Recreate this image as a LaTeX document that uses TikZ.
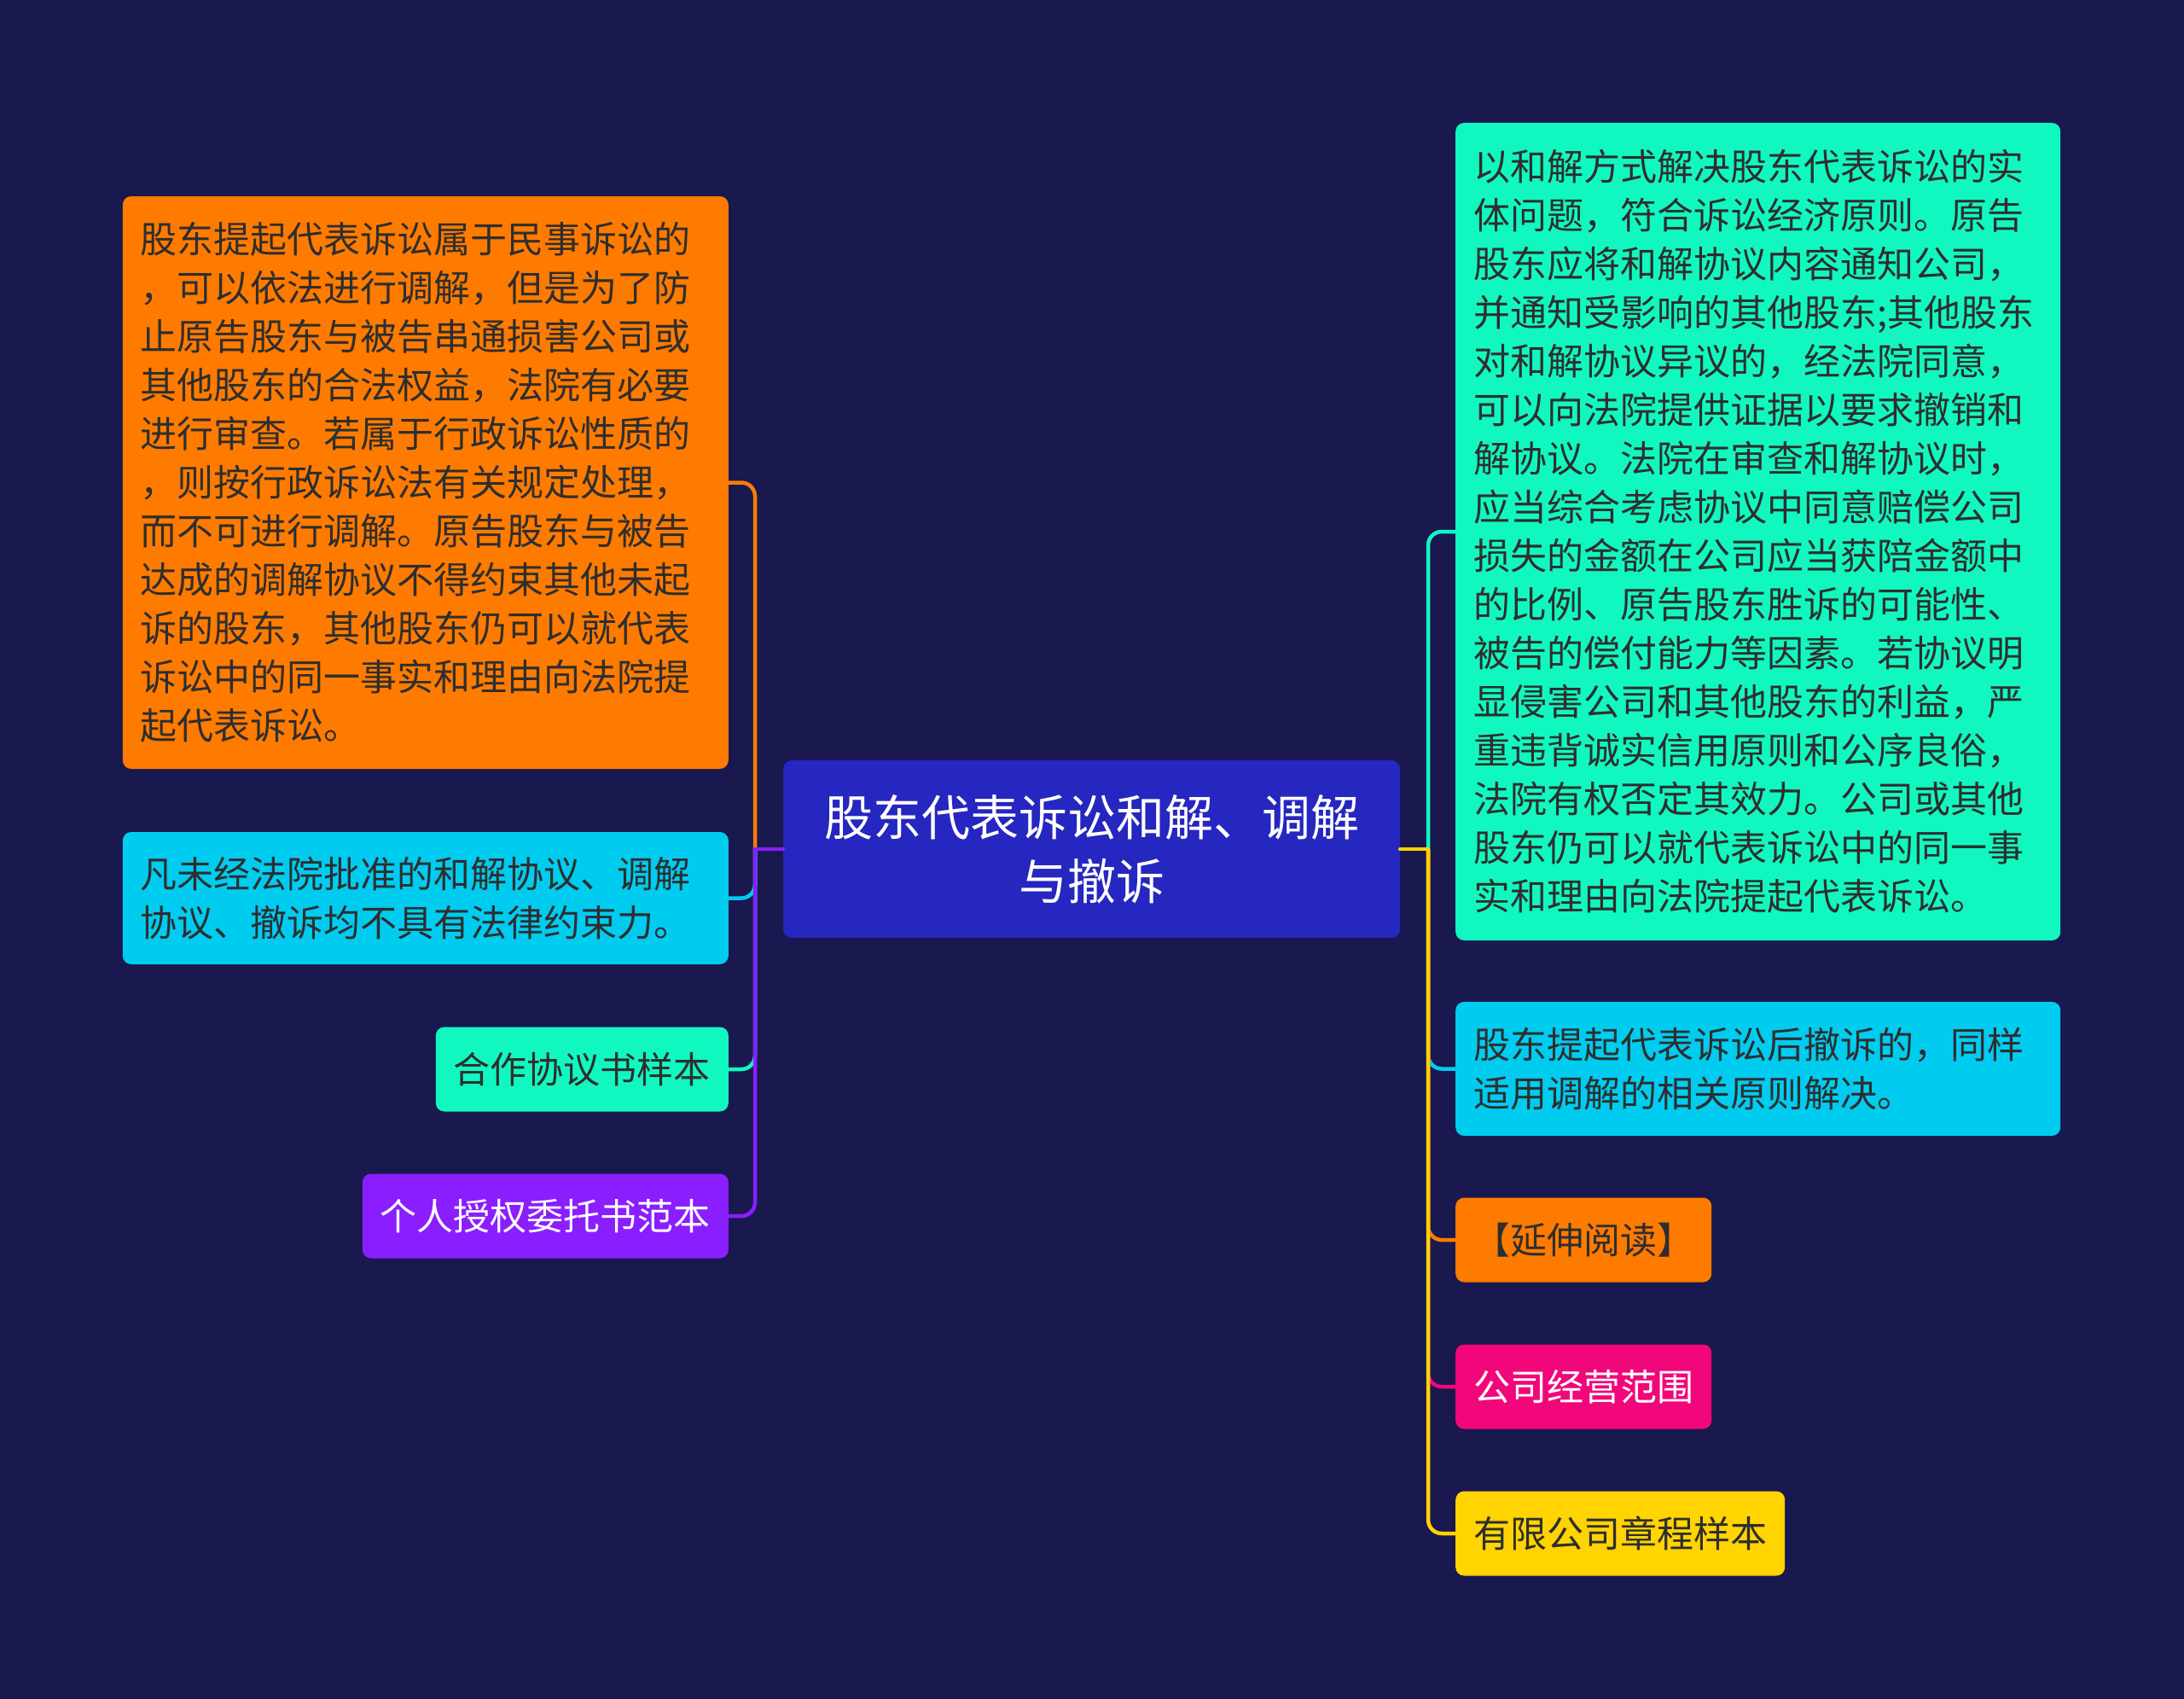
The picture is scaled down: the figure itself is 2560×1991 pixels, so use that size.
\documentclass[tikz,border=0pt]{standalone}
\usepackage{fontspec}
\setmainfont{Noto Sans CJK SC}
\definecolor{bgnavy}{HTML}{19184F}
\definecolor{rootblue}{HTML}{2626C0}
\definecolor{orng}{HTML}{FF7B00}
\definecolor{cyanb}{HTML}{00CCF0}
\definecolor{mint}{HTML}{10F8C0}
\definecolor{purp}{HTML}{8A1EFF}
\definecolor{pinkr}{HTML}{F2077A}
\definecolor{yell}{HTML}{FFD400}
\definecolor{txtdark}{HTML}{2E2E2E}
\begin{document}
\begin{tikzpicture}[x=1pt,y=-1pt,line join=round,line cap=round,
  box/.style={rounded corners=10pt,inner xsep=21pt,inner ysep=0pt,text=txtdark,
    font=\fontsize{43}{57}\selectfont,align=left},
  tag/.style={box,minimum height=99pt,align=center},
  link/.style={line width=4.5pt,rounded corners=16pt}]
\fill[bgnavy] (0,0) rectangle (2560,1991);
\useasboundingbox (0,0) rectangle (2560,1991);

\node[box,fill=rootblue,text=white,minimum width=723pt,minimum height=208pt,
  font=\fontsize{57}{75}\selectfont,align=center] (root) at (1279.5,995) {股东代表诉讼和解、调解\\与撤诉};

\node[box,fill=orng,minimum height=671pt,text width=668pt,anchor=east] (l1) at (854,565.5)
  {股东提起代表诉讼属于民事诉讼的\\，可以依法进行调解，但是为了防\\止原告股东与被告串通损害公司或\\其他股东的合法权益，法院有必要\\进行审查。若属于行政诉讼性质的\\，则按行政诉讼法有关规定处理，\\而不可进行调解。原告股东与被告\\达成的调解协议不得约束其他未起\\诉的股东，其他股东仍可以就代表\\诉讼中的同一事实和理由向法院提\\起代表诉讼。};
\node[box,fill=cyanb,minimum height=155pt,text width=668pt,anchor=east] (l2) at (854,1052.5)
  {凡未经法院批准的和解协议、调解\\协议、撤诉均不具有法律约束力。};
\node[tag,fill=mint,anchor=east] (l3) at (854,1253) {合作协议书样本};
\node[tag,fill=purp,text=white,anchor=east] (l4) at (854,1425) {个人授权委托书范本};

\node[box,fill=mint,minimum height=958pt,text width=667pt,anchor=west] (r1) at (1706,623)
  {以和解方式解决股东代表诉讼的实\\体问题，符合诉讼经济原则。原告\\股东应将和解协议内容通知公司，\\并通知受影响的其他股东;其他股东\\对和解协议异议的，经法院同意，\\可以向法院提供证据以要求撤销和\\解协议。法院在审查和解协议时，\\应当综合考虑协议中同意赔偿公司\\损失的金额在公司应当获陪金额中\\的比例、原告股东胜诉的可能性、\\被告的偿付能力等因素。若协议明\\显侵害公司和其他股东的利益，严\\重违背诚实信用原则和公序良俗，\\法院有权否定其效力。公司或其他\\股东仍可以就代表诉讼中的同一事\\实和理由向法院提起代表诉讼。};
\node[box,fill=cyanb,minimum height=157pt,text width=667pt,anchor=west] (r2) at (1706,1252.5)
  {股东提起代表诉讼后撤诉的，同样\\适用调解的相关原则解决。};
\node[tag,fill=orng,anchor=west] (r3) at (1706,1453) {【延伸阅读】};
\node[tag,fill=pinkr,text=white,anchor=west] (r4) at (1706,1625) {公司经营范围};
\node[tag,fill=yell,anchor=west] (r5) at (1706,1797) {有限公司章程样本};

\coordinate (jl) at (885,995);
\coordinate (jr) at (1674,995);
\draw[link,orng] (jl) |- (l1.east);
\draw[link,cyanb] (jl) |- (l2.east);
\draw[link,mint] (jl) |- (l3.east);
\draw[link,purp] (jl) |- (l4.east);
\draw[link,purp] (root.west) -- (jl);
\draw[link,mint] (jr) |- (r1.west);
\draw[link,cyanb] (jr) |- (r2.west);
\draw[link,orng] (jr) |- (r3.west);
\draw[link,pinkr] (jr) |- (r4.west);
\draw[link,yell] (jr) |- (r5.west);
\draw[link,yell] (root.east) -- (jr);
\end{tikzpicture}
\end{document}
